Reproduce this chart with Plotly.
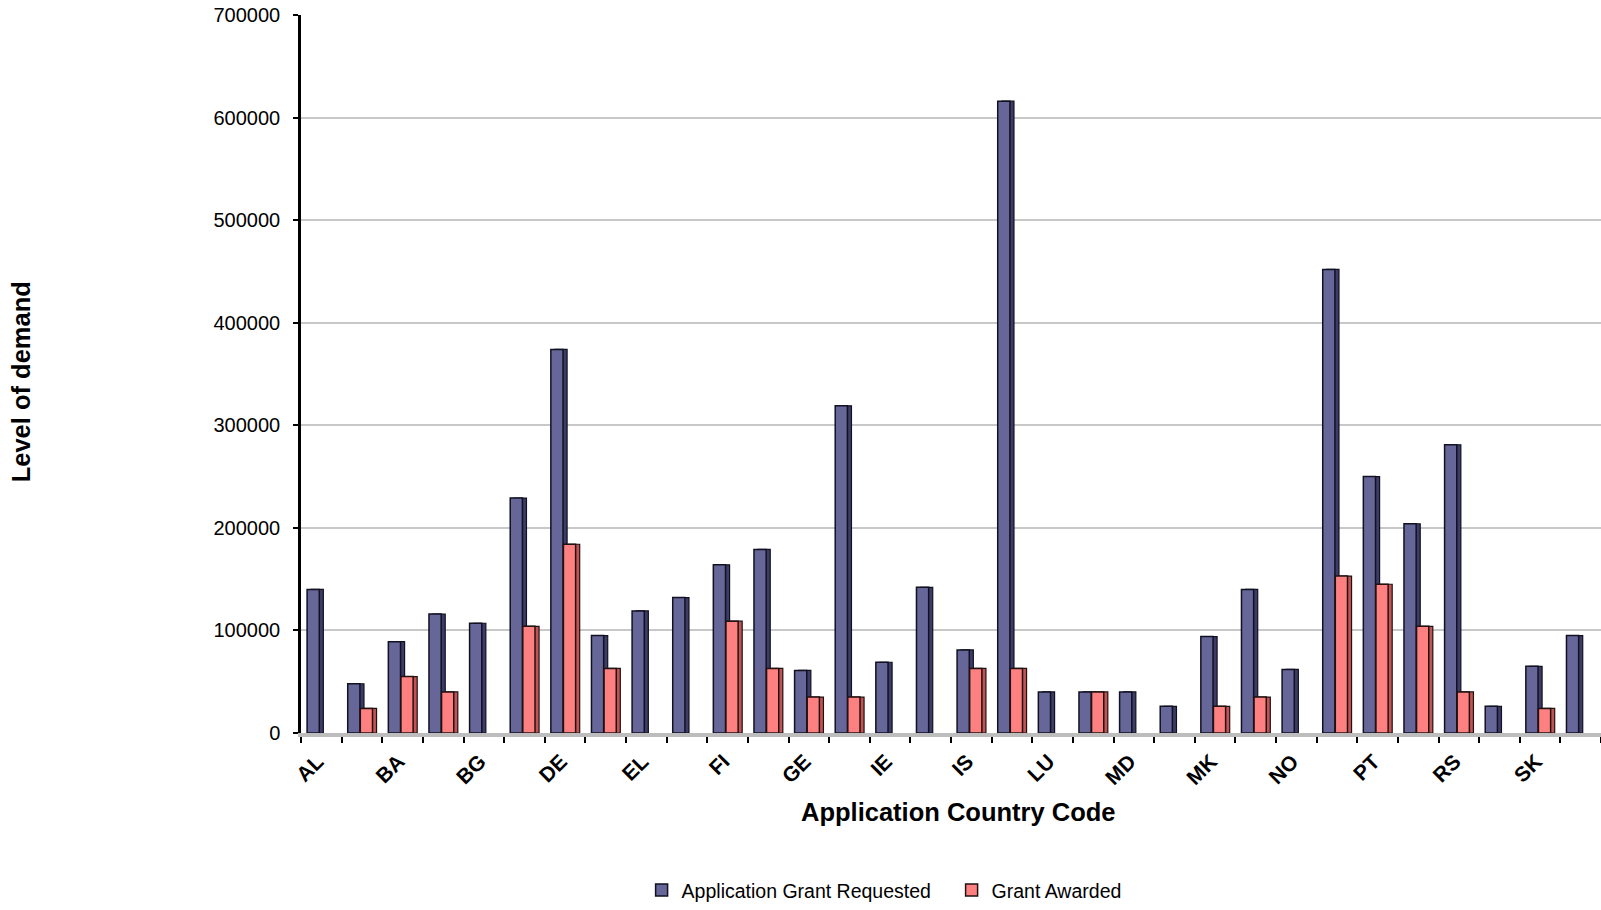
import plotly.graph_objects as go

categories = ["AL", "AT", "BA", "BE", "BG", "CZ", "DE", "DK", "EL", "ES", "FI", "FR",
              "GE", "HU", "IE", "IL", "IS", "IT", "LU", "LV", "MD", "ME", "MK", "NL",
              "NO", "PL", "PT", "RO", "RS", "SE", "SK", "TR"]
shown_labels = ["AL", "BA", "BG", "DE", "EL", "FI", "GE", "IE", "IS", "LU", "MD", "MK",
                "NO", "PT", "RS", "SK"]

requested = [140000, 48000, 89000, 116000, 107000, 229000, 374000, 95000, 119000, 132000,
             164000, 179000, 61000, 319000, 69000, 142000, 81000, 616000, 40000, 40000,
             40000, 26000, 94000, 140000, 62000, 452000, 250000, 204000, 281000, 26000,
             65000, 95000]
# None = no grant awarded (no bar drawn)
awarded = [None, 24000, 55000, 40000, None, 104000, 184000, 63000, None, None,
           109000, 63000, 35000, 35000, None, None, 63000, 63000, None, 40000,
           None, None, 26000, 35000, None, 153000, 145000, 104000, 40000, None,
           24000, None]

y_ticks = [0, 100000, 200000, 300000, 400000, 500000, 600000, 700000]

x_title = "Application Country Code"
y_title = "Level of demand"

ticktext = [c if c in shown_labels else "" for c in categories]

FONT = "Liberation Sans, Arial, sans-serif"

BAR_W = 0.30
DEPTH = 0.10

fig = go.Figure()
# side (depth) faces, drawn first so the front faces sit on top
fig.add_trace(go.Bar(
    x=categories, y=requested, name="Application Grant Requested (side)",
    offset=-0.35 + DEPTH, width=BAR_W, showlegend=False, hoverinfo="skip",
    marker=dict(color="#3c3c66", line=dict(color="#111122", width=1.2)),
))
fig.add_trace(go.Bar(
    x=categories, y=requested, name="Application Grant Requested",
    offset=-0.35, width=BAR_W,
    marker=dict(color="#666699", line=dict(color="#111122", width=1.5)),
))
fig.add_trace(go.Bar(
    x=categories, y=awarded, name="Grant Awarded (side)",
    offset=-0.04 + DEPTH, width=BAR_W, showlegend=False, hoverinfo="skip",
    marker=dict(color="#c05454", line=dict(color="#221111", width=1.2)),
))
fig.add_trace(go.Bar(
    x=categories, y=awarded, name="Grant Awarded",
    offset=-0.04, width=BAR_W,
    marker=dict(color="#FF8080", line=dict(color="#221111", width=1.5)),
))

fig.update_layout(
    width=1601, height=910,
    margin=dict(l=301, r=0, t=15, b=172),
    paper_bgcolor="white", plot_bgcolor="white",
    barmode="overlay",
    font=dict(family=FONT, size=20, color="black"),
    showlegend=True,
    legend=dict(orientation="h", x=0.262, xanchor="left", y=-0.219, yanchor="middle",
                font=dict(size=19.5, family=FONT), itemwidth=30,
                entrywidth=265, entrywidthmode="pixels",
                tracegroupgap=0, bgcolor="rgba(0,0,0,0)"),
    xaxis=dict(
        type="category",
        tickmode="array", tickvals=categories, ticktext=ticktext,
        tickson="boundaries",
        tickangle=-45,
        tickfont=dict(size=21, family=FONT, color="black", weight="bold"),
        ticks="outside", ticklen=6, tickcolor="black", tickwidth=1.5,
        ticklabelstandoff=4, ticklabelshift=-4,
        showline=True, linecolor="#bdbdbd", linewidth=4,
        showgrid=False,
        range=[-0.5, 31.5],
    ),
    yaxis=dict(
        range=[0, 700000],
        tickmode="array", tickvals=y_ticks, ticktext=[str(v) for v in y_ticks],
        tickfont=dict(size=20, family=FONT, color="black"),
        ticks="outside", ticklen=5, tickcolor="black", tickwidth=1.5,
        ticklabelstandoff=9,
        showline=True, linecolor="black", linewidth=2.5,
        showgrid=True, gridcolor="#c8c8c8", gridwidth=1.5,
        zeroline=False,
    ),
    annotations=[
        dict(text="<b>" + x_title + "</b>", xref="paper", yref="paper",
             x=0.506, y=-0.11, xanchor="center", yanchor="middle", showarrow=False,
             font=dict(size=25.5, family=FONT, color="black")),
        dict(text="<b>" + y_title + "</b>", xref="paper", yref="paper",
             x=-0.2158, y=0.489, xanchor="center", yanchor="middle", showarrow=False,
             textangle=-90, font=dict(size=25.5, family=FONT, color="black")),
    ],
)

fig.write_html("out.html", config={"displayModeBar": False},
               post_script="document.body.style.margin='0px';")
